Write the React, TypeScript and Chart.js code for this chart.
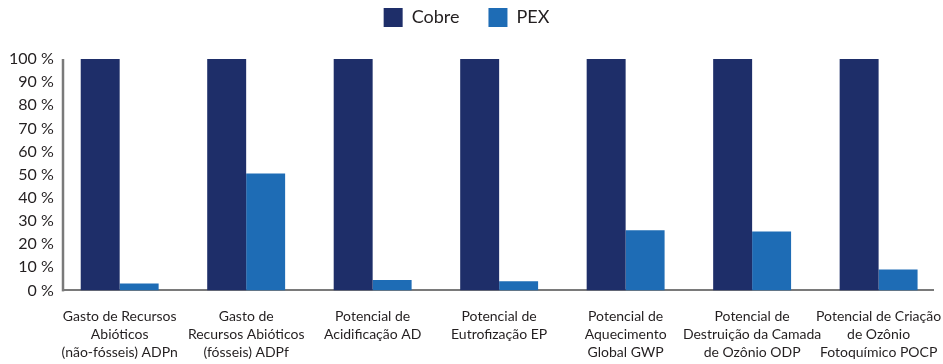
import React, { useEffect, useRef } from "react";
import { Chart, registerables } from "chart.js";

Chart.register(...registerables);

// Impact categories (multi-line tick labels)
const categories: string[][] = [
  ["Gasto de Recursos", "Abióticos", "(não-fósseis) ADPn"],
  ["Gasto de", "Recursos Abióticos", "(fósseis) ADPf"],
  ["Potencial de", "Acidificação AD"],
  ["Potencial de", "Eutrofização EP"],
  ["Potencial de", "Aquecimento", "Global GWP"],
  ["Potencial de", "Destruição da Camada", "de Ozônio ODP"],
  ["Potencial de Criação", "de Ozônio", "Fotoquímico POCP"],
];

// Relative impact, % of the larger value
const cobre: number[] = [100, 100, 100, 100, 100, 100, 100];
const pex: number[] = [3, 50.5, 4.5, 4, 26, 25.5, 9];

const yTicks: number[] = [0, 10, 20, 30, 40, 50, 60, 70, 80, 90, 100];

const COBRE_COLOR = "#1e2e69";
const PEX_COLOR = "#1e6cb5";
const TEXT_COLOR = "#231f20";
const AXIS_COLOR = "#7a7a7a";
const FONT = "Lato, 'Noto Sans', sans-serif";

// Horizontal extent of the category axis (in category units)
const X_MIN = -0.45;
const X_MAX = 6.43;

// Extra room between the legend row and the plot
const legendGap = {
  id: "legendGap",
  beforeLayout(chart: any) {
    const legend = chart.legend;
    if (legend && !legend.__gapPatched) {
      const fit = legend.fit;
      legend.fit = function () {
        fit.call(this);
        this.height += 22;
      };
      legend.__gapPatched = true;
    }
  },
};

// Vertical axis line along the left edge of the plot area
const valueAxisLine = {
  id: "valueAxisLine",
  afterDraw(chart: any) {
    const { ctx, chartArea } = chart;
    const x = Math.round(chartArea.left);
    ctx.save();
    ctx.strokeStyle = AXIS_COLOR;
    ctx.lineWidth = 2.5;
    ctx.beginPath();
    ctx.moveTo(x, chartArea.top);
    ctx.lineTo(x, chartArea.bottom + 1);
    ctx.stroke();
    ctx.restore();
  },
};

export default function App() {
  const canvasRef = useRef<HTMLCanvasElement | null>(null);

  useEffect(() => {
    if (!canvasRef.current) return;
    const chart = new Chart(canvasRef.current, {
      type: "bar",
      data: {
        datasets: [
          {
            label: "Cobre",
            data: cobre.map((v, i) => ({ x: i, y: v })),
            backgroundColor: COBRE_COLOR,
            borderWidth: 0,
          },
          {
            label: "PEX",
            data: pex.map((v, i) => ({ x: i, y: v })),
            backgroundColor: PEX_COLOR,
            borderWidth: 0,
          },
        ],
      },
      options: {
        responsive: false,
        animation: false,
        events: [],
        datasets: {
          bar: { barPercentage: 1, categoryPercentage: 0.616 },
        },
        layout: { padding: { top: -21, left: 0, right: 10, bottom: -15 } },
        plugins: {
          tooltip: { enabled: false },
          legend: {
            position: "top",
            align: "center",
            labels: {
              boxWidth: 19,
              boxHeight: 19,
              padding: 29,
              color: TEXT_COLOR,
              font: { family: FONT, size: 18 },
            },
          },
        },
        scales: {
          x: {
            type: "linear",
            offset: false,
            min: X_MIN,
            max: X_MAX,
            afterBuildTicks: (scale: any) => {
              scale.ticks = categories.map((_, i) => ({ value: i }));
            },
            afterFit: (scale: any) => {
              scale.paddingLeft = 0;
              scale.paddingRight = 0;
            },
            grid: { display: false, drawTicks: false, offset: false },
            border: { display: true, color: AXIS_COLOR, width: 2 },
            ticks: {
              autoSkip: false,
              maxRotation: 0,
              padding: 17,
              color: TEXT_COLOR,
              font: { family: FONT, size: 14, lineHeight: 1.3 },
              callback: (v: any) => categories[Number(v)] ?? "",
            },
          },
          y: {
            min: 0,
            max: 100,
            afterBuildTicks: (scale: any) => {
              scale.ticks = yTicks.map((v) => ({ value: v }));
            },
            grid: { display: false, drawTicks: false },
            border: { display: false },
            ticks: {
              padding: 9,
              color: TEXT_COLOR,
              font: { family: FONT, size: 16 },
              callback: (v: any) => `${v} %`,
            },
          },
        },
      },
      plugins: [legendGap, valueAxisLine],
    } as any);
    return () => chart.destroy();
  }, []);

  return (
    <div style={{ position: "fixed", left: 0, top: 0, width: 943, height: 364, background: "#ffffff" }}>
      <canvas ref={canvasRef} width={943} height={364} style={{ display: "block" }} />
    </div>
  );
}
